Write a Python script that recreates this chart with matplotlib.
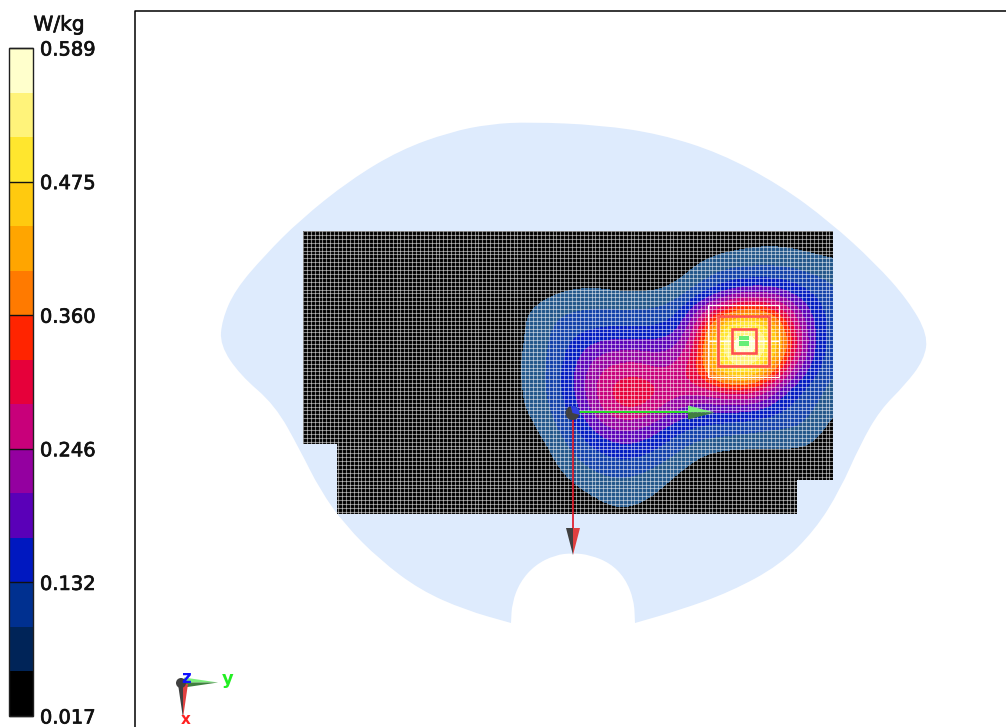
import numpy as np
import matplotlib
matplotlib.use("Agg")
from matplotlib import pyplot as plt
from matplotlib import patheffects
from matplotlib.cm import ScalarMappable
from matplotlib.colors import BoundaryNorm, ListedColormap
from matplotlib.patches import Circle, PathPatch, Polygon, Rectangle, Wedge
from matplotlib.path import Path

# colour scale, W/kg
sar_min = 0.017
sar_max = 0.589
band_colors = ["#000000", "#002458", "#003090", "#0018c0", "#5a00b8",
               "#9400a0", "#c8007a", "#e6003a", "#ff2400", "#ff7a00",
               "#ffa500", "#ffca0f", "#ffe62e", "#fff37a", "#ffffcc"]
# on the map the two lowest blue bands show paler than on the bar
map_colors = ["#000000", "#1f5488", "#0f3ea8"] + band_colors[3:]
tick_labels = ["0.017", "0.132", "0.246", "0.360", "0.475", "0.589"]

# phantom outline, picture pixels
phantom_x = [530, 600, 660, 720, 780, 830, 875, 908, 928, 924, 905, 880, 860, 840, 815, 780, 730, 680, 635, 635,
             634, 625, 610, 590, 573, 555, 535, 520, 512, 511, 511, 465, 420, 380, 345, 320, 300, 275, 240, 220,
             222, 235, 265, 300, 350, 400, 450, 490]
phantom_y = [122, 125, 134, 153, 185, 222, 263, 300, 335, 360, 385, 410, 445, 490, 530, 565, 592, 610, 623, 623,
             600, 578, 563, 555, 553, 555, 565, 582, 603, 623, 623, 610, 590, 560, 525, 490, 450, 405, 375, 345,
             320, 290, 255, 220, 180, 150, 132, 124]

# measured area outline
area_x = [303, 833, 833, 797, 797, 337, 337, 303]
area_y = [231, 231, 480, 480, 514, 514, 444, 444]

# SAR, one row every 20 px from y=230, one column every 20 px from x=500
sar_values = [
    [.02, .02, .02, .02, .02, .02, .02, .02, .02, .02, .02, .025, .03, .03, .03, .03, .03, .03],
    [.02, .02, .02, .02, .02, .02, .02, .02, .025, .03, .035, .045, .052, .06, .06, .052, .045, .04],
    [.02, .02, .02, .02, .02, .025, .025, .025, .03, .04, .065, .09, .10, .10, .10, .093, .08, .07],
    [.02, .02, .035, .05, .06, .058, .05, .05, .05, .07, .105, .145, .17, .185, .17, .14, .115, .09],
    [.03, .045, .068, .088, .093, .095, .093, .095, .10, .125, .22, .30, .37, .37, .30, .21, .135, .105],
    [.03, .045, .08, .105, .125, .135, .14, .135, .14, .17, .30, .50, .57, .55, .42, .25, .145, .105],
    [.03, .05, .08, .115, .165, .20, .21, .21, .20, .22, .33, .52, .585, .57, .43, .26, .14, .10],
    [.03, .055, .08, .125, .19, .245, .27, .27, .245, .27, .34, .46, .53, .48, .33, .20, .125, .09],
    [.03, .05, .08, .125, .19, .27, .31, .322, .29, .265, .27, .30, .32, .28, .19, .13, .10, .065],
    [.03, .05, .07, .115, .17, .245, .285, .285, .24, .20, .175, .17, .17, .165, .135, .115, .085, .05],
    [.02, .03, .06, .095, .135, .185, .215, .205, .17, .135, .12, .115, .105, .095, .09, .09, .06, .03],
    [.02, .02, .035, .075, .11, .135, .155, .15, .125, .095, .065, .052, .05, .052, .052, .052, .04, .02],
    [.02, .02, .03, .053, .08, .10, .108, .10, .08, .055, .035, .025, .02, .02, .02, .02, .02, .02],
    [.02, .02, .02, .035, .052, .068, .075, .07, .055, .035, .02, .02, .02, .02, .02, .02, .02, .02],
    [.02, .02, .02, .02, .03, .045, .055, .05, .035, .02, .02, .02, .02, .02, .02, .02, .02, .02],
    [.02, .02, .02, .02, .02, .025, .03, .025, .02, .02, .02, .02, .02, .02, .02, .02, .02, .02],
]

levels = np.linspace(sar_min, sar_max, len(band_colors) + 1)
cmap = ListedColormap(band_colors)
norm = BoundaryNorm(levels, cmap.N)

map_cmap = ListedColormap(map_colors)
map_cmap.set_under(map_colors[0])
map_cmap.set_over(map_colors[-1])


def smooth_outline(xs, ys):
    # quadratic curves between midpoints, doubled points stay corners
    pts = np.column_stack([xs, ys]).astype(float)
    mids = (pts + np.roll(pts, -1, axis=0)) / 2
    verts = [mids[-1]]
    codes = [Path.MOVETO]
    for p, m in zip(pts, mids):
        verts += [p, m]
        codes += [Path.CURVE3, Path.CURVE3]
    return Path(verts, codes)


fig = plt.figure(figsize=(10.06, 7.27), dpi=100)
ax = fig.add_axes([0, 0, 1, 1])
ax.set_xlim(0, 1006)
ax.set_ylim(727, 0)
ax.axis("off")

# frame of the 3D view
ax.plot([135, 135, 1006], [727, 11, 11], color="black", lw=1.1, zorder=1)

ax.add_patch(PathPatch(smooth_outline(phantom_x, phantom_y), fc="#deebfd", ec="none", zorder=2))

# measured area with the SAR map
area = Polygon(np.column_stack([area_x, area_y]), closed=True, fc="black", ec="none", zorder=3)
ax.add_patch(area)
im = ax.imshow(sar_values, extent=(490, 850, 540, 220), cmap=map_cmap, norm=norm, aspect="auto",
               interpolation="bicubic", interpolation_stage="data", zorder=4)
im.set_clip_path(area)
ax.set_xlim(0, 1006)
ax.set_ylim(727, 0)

# measurement mesh
mesh_xs = np.arange(303, 834, 3.9)
mesh_ys = np.arange(231, 515, 3.9)
vl = ax.vlines(mesh_xs, 231, 514, color="white", lw=0.8, alpha=0.5, zorder=5)
hl = ax.hlines(mesh_ys, 303, 833, color="white", lw=0.8, alpha=0.5, zorder=5)
vl.set_clip_path(area)
hl.set_clip_path(area)

# peak markers
ax.add_patch(Rectangle((708, 305), 71, 72, fc="none", ec="white", lw=0.9, zorder=6))
ax.plot([708, 779], [341, 341], color="white", lw=0.9, zorder=6)
ax.add_patch(Rectangle((718.5, 315.5), 50.5, 50.5, fc="none", ec="#ff5050", lw=1.9, zorder=6))
ax.add_patch(Rectangle((732, 329), 24, 24, fc="none", ec="#ff5050", lw=1.9, zorder=6))
ax.add_patch(Rectangle((739, 336), 10, 4, fc="#66ee77", ec="none", zorder=6))
ax.add_patch(Rectangle((739, 341), 10, 5, fc="#66ee77", ec="none", zorder=6))


def cone_right(x0, x1, yc, half):
    ax.add_patch(Polygon([(x0, yc - half), (x1, yc), (x0, yc)], fc="#7df07d", ec="none", zorder=8))
    ax.add_patch(Polygon([(x0, yc), (x1, yc), (x0, yc + half)], fc="#3f7f3f", ec="none", zorder=8))


def cone_down(xc, y0, y1, half):
    ax.add_patch(Polygon([(xc - half, y0), (xc, y0), (xc, y1)], fc="#404040", ec="none", zorder=8))
    ax.add_patch(Polygon([(xc, y0), (xc + half, y0), (xc, y1)], fc="#e04040", ec="none", zorder=8))


# coordinate axes on the phantom
ax.plot([578, 690], [412, 412], color="#22dd22", lw=1.4, zorder=7)
cone_right(688, 715, 412.5, 7)
ax.plot([573, 573], [418, 530], color="#e01020", lw=1.2, zorder=7)
cone_down(573, 528, 555, 7)
ax.add_patch(Circle((572.5, 413), 7, fc="#404040", ec="none", zorder=9))
ax.add_patch(Wedge((572.5, 413), 7, -105, 15, fc="#3040e0", ec="none", zorder=9))

# small orientation triad
cone_right(184, 218, 682.5, 5)
cone_down(183, 684, 718, 5)
ax.add_patch(Circle((181, 683), 5, fc="#404040", ec="none", zorder=9))
ax.text(186, 678, "z", color="#1010ff", fontsize=12, weight="bold", ha="center", va="center", zorder=10)
ax.text(228, 679, "y", color="#22ee22", fontsize=13, weight="bold", ha="center", va="center", zorder=10)
ax.text(186, 719.5, "x", color="#ff2020", fontsize=11, weight="bold", ha="center", va="center", zorder=10)

# colour bar
heavy = [patheffects.withStroke(linewidth=0.5, foreground="#111111")]
cax = fig.add_axes([9 / 1006, 1 - 716 / 727, 24 / 1006, 668 / 727])
cb = fig.colorbar(ScalarMappable(norm=norm, cmap=cmap), cax=cax, ticks=levels[::3], spacing="proportional")
cb.ax.set_yticklabels(tick_labels)
cb.ax.minorticks_off()
cb.outline.set_edgecolor("#202020")
cb.outline.set_linewidth(1.0)
cb.ax.tick_params(direction="in", length=17.3, width=1.0, pad=5, labelsize=14, colors="#111111")
for label in cb.ax.get_yticklabels():
    label.set_path_effects(heavy)
ax.text(59, 25, "W/kg", fontsize=14.5, ha="center", va="center", color="#111111", path_effects=heavy)

fig.savefig("out.png", dpi=100)
